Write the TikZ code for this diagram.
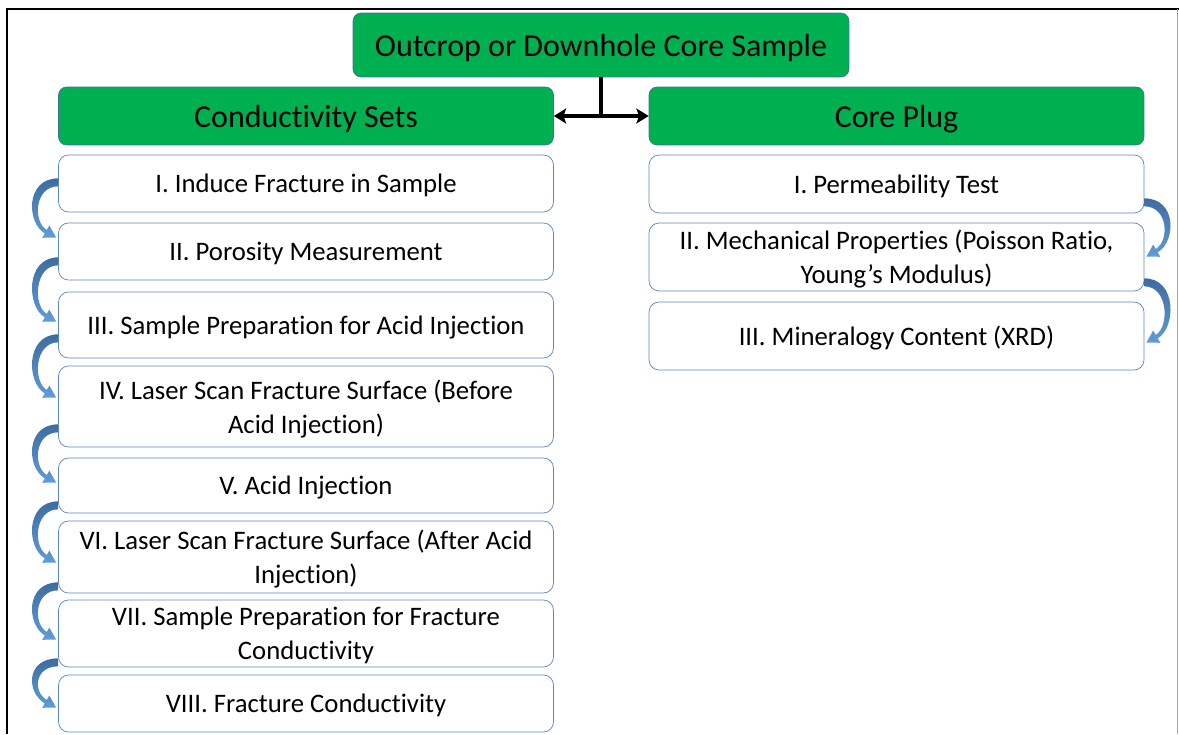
\documentclass[tikz,border=0pt]{standalone}
\usepackage{fontspec}
\setmainfont[Ligatures=NoCommon]{Carlito}
\usetikzlibrary{arrows.meta,calc}

\definecolor{boxgreen}{RGB}{0,176,80}
\definecolor{greenedge}{RGB}{65,113,156}
\definecolor{stepedge}{RGB}{91,135,190}
\definecolor{bendtop}{RGB}{62,108,160}
\definecolor{bendbottom}{RGB}{96,156,214}

\tikzset{
  headbox/.style={draw=greenedge, fill=boxgreen, rounded corners=0.16cm,
    minimum width=9.9cm, minimum height=1.16cm, inner sep=0pt, text depth=0pt,
    font=\fontsize{18.2}{22}\selectfont},
  stepbox/.style={draw=stepedge, fill=white, rounded corners=0.2cm,
    minimum width=9.9cm, inner sep=0pt, align=center, text depth=0pt,
    font=\fontsize{15.2}{19.3}\selectfont},
  joinline/.style={line width=1.8pt},
}

% tapered bent arrow: #1 start, #2 tip, #3 side (1 = left, -1 = right)
\newcommand{\bendarrow}[3]{%
  \shade[top color=bendtop, bottom color=bendbottom]
    ($#1+(0,-4)$) .. controls ($#1+({-33*(#3)},-4)$) and ($#2+({-29.7*(#3)},-14.8)$) .. ($#2+({-11.4*(#3)},-4.3)$)
    -- ($#2+({-13.9*(#3)},0.1)$) -- ($#2$) -- ($#2+({-6.9*(#3)},-12.1)$)
    -- ($#2+({-9.4*(#3)},-7.7)$) .. controls ($#2+({-23.3*(#3)},-15.7)$) and ($#1+({-24*(#3)},4)$) .. ($#1+(0,4)$) -- cycle;
}

\begin{document}
\begin{tikzpicture}[x=0.02cm, y=-0.02cm]

  \useasboundingbox (0,0) rectangle (1179,734);

  % Frame
  \draw[line width=1.2pt] (7,734) -- (7,9) -- (1179,9);
  \draw[gray!70, line width=0.6pt] (1177.5,9) -- (1177.5,734);

  % Green headers
  \node[headbox, minimum width=9.92cm, minimum height=1.28cm] (core) at (601,45) {Outcrop or Downhole Core Sample};
  \node[headbox] (cs) at (306,116) {Conductivity Sets};
  \node[headbox] (cp) at (896.5,116) {Core Plug};

  \draw[joinline] (core.south) -- (core.south |- cs.east);
  \draw[joinline, {Stealth[length=7pt,width=8.5pt,inset=1.5pt]}-{Stealth[length=7pt,width=8.5pt,inset=1.5pt]}] (cs.east) -- (cp.west);

  % Conductivity steps
  \node[stepbox, minimum height=1.14cm] (l1) at (306,183.5) {I. Induce Fracture in Sample};
  \node[stepbox, minimum height=1.14cm] (l2) at (306,251.5) {II. Porosity Measurement};
  \node[stepbox, minimum height=1.32cm] (l3) at (306,325) {III. Sample Preparation for Acid Injection};
  \node[stepbox, minimum height=1.62cm] (l4) at (306,406.5) {IV. Laser Scan Fracture Surface (Before\\Acid Injection)};
  \node[stepbox, minimum height=1.10cm] (l5) at (306,485.5) {V. Acid Injection};
  \node[stepbox, minimum height=1.44cm] (l6) at (306,557) {VI. Laser Scan Fracture Surface (After Acid\\Injection)};
  \node[stepbox, minimum height=1.34cm] (l7) at (306,633.5) {VII. Sample Preparation for Fracture\\Conductivity};
  \node[stepbox, minimum height=1.14cm] (l8) at (306,703.5) {VIII. Fracture Conductivity};

  % Core plug steps
  \node[stepbox, minimum height=1.16cm] (r1) at (896.5,184) {I. Permeability Test};
  \node[stepbox, minimum height=1.36cm] (r2) at (896.5,257) {II. Mechanical Properties (Poisson Ratio,\\Young’s Modulus)};
  \node[stepbox, minimum height=1.36cm] (r3) at (896.5,336) {III. Mineralogy Content (XRD)};

  % Bent arrows between steps
  \foreach \a/\b/\s/\e in {l1/l2/30/15, l2/l3/19/30, l3/l4/20/32, l4/l5/19/25, l5/l6/8/42, l6/l7/7/40, l7/l8/5/33}{
    \bendarrow{(\a.south west)+(0,-\s)}{(\b.north west)+(-2,\e)}{1}
  }
  \foreach \a/\b/\s/\e in {r1/r2/11/34, r2/r3/9/41}{
    \bendarrow{(\a.south east)+(0,-\s)}{(\b.north east)+(2,\e)}{-1}
  }

\end{tikzpicture}
\end{document}
